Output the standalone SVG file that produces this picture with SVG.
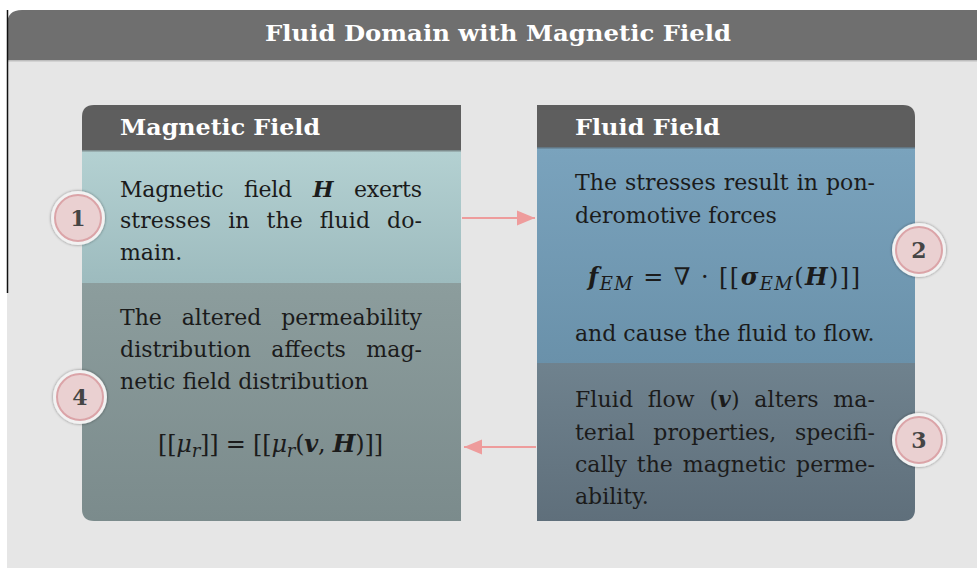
<svg xmlns="http://www.w3.org/2000/svg" width="977" height="570" viewBox="0 0 977 570">
<style>
.body{font-family:"DejaVu Serif","Liberation Serif",serif;font-size:22px;fill:#1b1b1b}
.math{font-family:"DejaVu Serif","Liberation Serif",serif;font-size:24px;fill:#1b1b1b}
.head{font-family:"DejaVu Serif","Liberation Serif",serif;font-size:22px;font-weight:bold;fill:#ffffff}
.bi{font-weight:bold;font-style:italic}
.it{font-style:italic}
.sub{font-style:italic;font-size:18px}
.num{font-family:"DejaVu Serif","Liberation Serif",serif;font-size:22px;font-weight:bold;fill:#454545;text-anchor:middle}
.conn{stroke:#ee9c9c;stroke-width:2;fill:none}
</style>
<defs>
<linearGradient id="gLT" x1="0" y1="0" x2="0" y2="1"><stop offset="0" stop-color="#b4d1d2"/><stop offset="1" stop-color="#9dbbbe"/></linearGradient>
<linearGradient id="gLB" x1="0" y1="0" x2="0" y2="1"><stop offset="0" stop-color="#8c9d9d"/><stop offset="1" stop-color="#7b8b8c"/></linearGradient>
<linearGradient id="gRT" x1="0" y1="0" x2="0" y2="1"><stop offset="0" stop-color="#7aa3bd"/><stop offset="1" stop-color="#6a91aa"/></linearGradient>
<linearGradient id="gRB" x1="0" y1="0" x2="0" y2="1"><stop offset="0" stop-color="#6f828e"/><stop offset="1" stop-color="#5f6f7b"/></linearGradient>
<clipPath id="cL"><path d="M82,117 Q82,105 94,105 H461 V521 H94 Q82,521 82,509 Z"/></clipPath>
<clipPath id="cR"><path d="M537,105 H903 Q915,105 915,117 V509 Q915,521 903,521 H537 Z"/></clipPath>
<filter id="sh" x="-30%" y="-30%" width="160%" height="160%"><feGaussianBlur in="SourceAlpha" stdDeviation="1.5"/><feComponentTransfer><feFuncA type="linear" slope="0.45"/></feComponentTransfer><feMerge><feMergeNode/><feMergeNode in="SourceGraphic"/></feMerge></filter>
<marker id="ah" markerUnits="userSpaceOnUse" markerWidth="19" markerHeight="16" refX="18" refY="8" orient="auto"><path d="M0,0.5 L18,8 L0,15.5 Z" fill="#ee9c9c"/></marker>
<g id="badge"><circle r="27" fill="#f2f2f2" filter="url(#sh)"/><circle r="23" fill="#ead0d1" stroke="#dba4a8" stroke-width="2"/></g>
</defs>
<rect x="0" y="0" width="977" height="570" fill="#ffffff"/>
<g id="frame">
<rect x="7" y="58" width="970" height="510" fill="#e6e6e6"/>
<path d="M7,60 V25 Q7,10 22,10 H977 V60 Z" fill="#6f6f6f"/>
<rect x="7" y="60" width="970" height="1.5" fill="#bdbdbd"/>
<line x1="7.5" y1="10" x2="7.5" y2="293" stroke="#111" stroke-width="1.5"/>
<text class="head" x="498" y="41" text-anchor="middle" font-size="23" textLength="466" lengthAdjust="spacingAndGlyphs">Fluid Domain with Magnetic Field</text>
</g>
<g id="magnetic-field">
<g clip-path="url(#cL)">
<rect x="82" y="105" width="379" height="45" fill="#5e5e5e"/>
<rect x="82" y="150" width="379" height="133" fill="url(#gLT)"/>
<rect x="82" y="283" width="379" height="238" fill="url(#gLB)"/>
<rect x="82" y="150" width="379" height="1.5" fill="#4a4a4a" opacity="0.5"/>
</g>
<text class="head" x="120" y="135" textLength="200" lengthAdjust="spacingAndGlyphs">Magnetic Field</text>
</g>
<g id="fluid-field">
<g clip-path="url(#cR)">
<rect x="537" y="105" width="378" height="42" fill="#5e5e5e"/>
<rect x="537" y="147" width="378" height="216" fill="url(#gRT)"/>
<rect x="537" y="363" width="378" height="158" fill="url(#gRB)"/>
<rect x="537" y="147" width="378" height="1.5" fill="#4a4a4a" opacity="0.5"/>
</g>
<text class="head" x="575" y="135" textLength="145" lengthAdjust="spacingAndGlyphs">Fluid Field</text>
</g>
<g id="step1">
<text class="body" x="120" y="197" word-spacing="14" textLength="302" lengthAdjust="spacing">Magnetic field <tspan class="bi">H</tspan> exerts</text>
<text class="body" x="120" y="228" word-spacing="10" textLength="302" lengthAdjust="spacing">stresses in the fluid do-</text>
<text class="body" x="120" y="260">main.</text>
<use href="#badge" x="78" y="218"/>
<text class="num" x="78" y="226">1</text>
</g>
<g id="step2">
<text class="body" x="575" y="190" word-spacing="1" textLength="300" lengthAdjust="spacing">The stresses result in pon-</text>
<text class="body" x="575" y="223">deromotive forces</text>
<text class="math" x="588" y="285" textLength="272" lengthAdjust="spacing"><tspan class="bi">f</tspan><tspan class="sub" dy="5">EM</tspan><tspan dy="-5"> = ∇ · [[</tspan><tspan class="bi">σ</tspan><tspan class="sub" dy="5">EM</tspan><tspan dy="-5">(</tspan><tspan class="bi">H</tspan>)]]</text>
<text class="body" x="575" y="341">and cause the fluid to flow.</text>
<use href="#badge" x="919" y="250"/>
<text class="num" x="919" y="258">2</text>
</g>
<g id="step3">
<text class="body" x="575" y="407" word-spacing="7.5" textLength="300" lengthAdjust="spacing">Fluid flow (<tspan class="bi">v</tspan>) alters ma-</text>
<text class="body" x="575" y="440" word-spacing="11.5" textLength="300" lengthAdjust="spacing">terial properties, specifi-</text>
<text class="body" x="575" y="472" word-spacing="3" textLength="300" lengthAdjust="spacing">cally the magnetic perme-</text>
<text class="body" x="575" y="504">ability.</text>
<use href="#badge" x="919" y="440"/>
<text class="num" x="919" y="448">3</text>
</g>
<g id="step4">
<text class="body" x="120" y="325" word-spacing="13" textLength="302" lengthAdjust="spacing">The altered permeability</text>
<text class="body" x="120" y="357" word-spacing="13.5" textLength="302" lengthAdjust="spacing">distribution affects mag-</text>
<text class="body" x="120" y="389">netic field distribution</text>
<text class="math" x="158" y="452" textLength="225" lengthAdjust="spacing">[[<tspan class="it">μ</tspan><tspan class="sub" dy="5">r</tspan><tspan dy="-5">]] = [[</tspan><tspan class="it">μ</tspan><tspan class="sub" dy="5">r</tspan><tspan dy="-5">(</tspan><tspan class="bi">v</tspan>, <tspan class="bi">H</tspan>)]]</text>
<use href="#badge" x="80" y="397"/>
<text class="num" x="80" y="405">4</text>
</g>
<g id="connectors">
<line class="conn" x1="462" y1="218" x2="535" y2="218" marker-end="url(#ah)"/>
<line class="conn" x1="536" y1="447" x2="464" y2="447" marker-end="url(#ah)"/>
</g>
</svg>
